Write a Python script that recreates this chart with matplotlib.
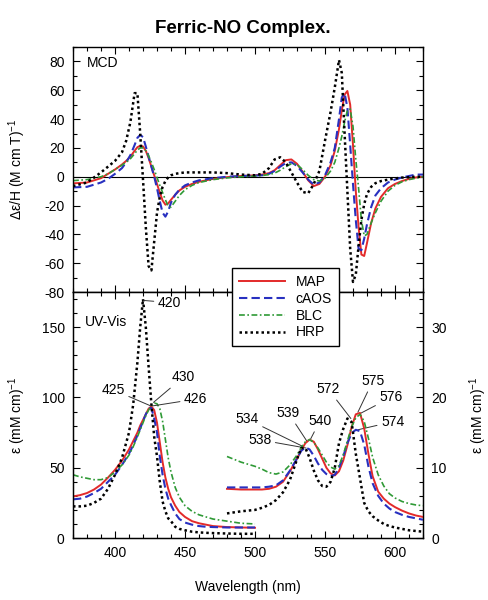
#!/usr/bin/env python3
"""
Ferric-NO complex: MCD and UV-Vis spectra (MAP, cAOS, BLC, HRP)
"""

import matplotlib
matplotlib.use('Agg')
import matplotlib.pyplot as plt
from matplotlib.ticker import MultipleLocator

plt.rcParams['font.family'] = ['Liberation Sans', 'DejaVu Sans']
plt.rcParams['axes.unicode_minus'] = False
plt.rcParams['mathtext.fontset'] = 'custom'
plt.rcParams['mathtext.rm'] = 'Liberation Sans'
plt.rcParams['mathtext.default'] = 'regular'

# ---- MCD (Δε/H, M cm T)^-1 ----
MCD_WL = [370, 380, 390, 395, 400, 405, 408, 411, 414, 416, 418, 420, 422, 424, 426, 428,
          430, 432, 434, 436, 438, 440, 443, 446, 450, 455, 460, 470, 480, 490, 500, 505,
          510, 514, 518, 522, 526, 530, 534, 538, 542, 546, 550, 554, 557, 560, 562, 564,
          566, 568, 570, 572, 574, 576, 578, 580, 583, 586, 590, 595, 600, 605, 610, 615, 620]
MCD_MAP = [-4.6, -4, -1, 2, 5, 8.5, 11, 14, 18, 20.5, 21.5, 21, 18, 13, 7, 1,
           -5, -11, -16.5, -19.4, -18.5, -16, -12.5, -9.5, -7, -5, -3.5, -1.5, -0.3, 0.5, 1, 1.5,
           2.5, 4.5, 8, 11.5, 12, 9, 3.5, -2.5, -6.5, -5, 0, 8, 18, 33, 46, 57,
           59.5, 50, 22, -10, -35, -54, -55, -46, -32, -22, -14, -8, -5, -3, -1.5, -0.5, 0]
MCD_CAOS = [-7.4, -7, -4, -1.5, 2, 6, 10, 15, 22, 27, 29, 27.5, 21, 14, 7, 0,
            -8, -17, -25, -27.7, -24, -18, -12.5, -9, -6, -4, -2.5, -1, 0, 0.5, 0.8, 1,
            2, 4, 7, 9.5, 10, 7.5, 3, -2, -5.5, -4, 1, 10, 20, 40, 55, 58,
            48, 22, -5, -30, -50, -51, -43, -33, -21, -13, -8, -4, -2, -0.5, 0.5, 1.5, 1.5]
MCD_BLC = [-2.7, -2, 0, 2, 5, 8, 10, 12.5, 16, 18.5, 20, 20, 18, 14.5, 10, 5,
           -0.5, -6, -11, -16, -20.5, -21, -17, -13, -9, -6, -4, -2, -0.8, 0, 0.5, 0.8,
           1.5, 2.5, 4.5, 7, 9, 8.5, 5, 1, -2, -3, -1, 4, 10, 20, 28, 38,
           46, 47, 35, 12, -8, -30, -41, -40, -32, -25, -17, -10, -6, -3.5, -2, -1, 0]
MCD_HRP = [-6.5, -4, 3, 7, 11, 17, 25, 38, 58, 58, 30, -2, -35, -62, -65, -45,
           -25, -14, -7, -3, -0.5, 1, 2, 2.5, 3, 3, 3, 3, 2.5, 1.5, 1, 2,
           6, 12, 13.5, 10, 3, -4, -10.5, -11.5, -5, 4, 25, 45, 62, 81, 72, 30,
           -10, -50, -73, -68, -48, -30, -19, -12, -7, -4.5, -3, -2, -1.2, -0.6, -0.3, 0, 0]

# ---- UV-Vis Soret region (left axis, mM cm)^-1 ----
SORET_WL = [370, 375, 380, 385, 390, 395, 400, 405, 410, 413, 416, 418, 420, 422, 424, 426,
            428, 430, 432, 434, 436, 438, 440, 443, 446, 450, 455, 460, 465, 470, 480, 490, 500]
SORET_MAP = [29.6, 30.5, 32, 34.5, 38, 43, 48.5, 55, 63, 69, 75, 80, 84, 88, 92, 93.6,
             91, 82, 68, 54, 43, 35, 29, 23, 18.5, 15, 12, 10.5, 9.5, 8.5, 7.8, 7.5, 7.3]
SORET_CAOS = [27.5, 28, 29.5, 32, 35, 40, 45, 52, 60, 66, 73, 78, 83, 88, 92, 92.5,
              85, 75, 58, 45, 35, 28, 23.5, 17.5, 13.5, 11, 9.5, 8.5, 8, 7.8, 7.5, 7.5, 7.5]
SORET_BLC = [45, 43.5, 42.5, 41.5, 41.5, 43, 47, 52, 59, 65, 72, 77, 82, 87, 91, 94,
             96, 95.5, 92, 83, 70, 57, 47, 36, 29, 23, 19, 16.5, 15, 13.5, 12, 10.5, 10]
SORET_HRP = [22.5, 22.5, 23, 25, 28, 35, 45, 57, 75, 95, 125, 150, 170, 150, 122, 95,
             72, 58, 40, 26, 19, 14, 12, 8, 6.5, 5.5, 4.5, 4, 3.7, 3.5, 3.2, 3, 3]

# ---- UV-Vis Q-band region (right axis, mM cm)^-1 ----
Q_WL = [480, 490, 500, 505, 510, 515, 520, 525, 530, 533, 536, 539, 542, 545, 548, 551, 554,
        557, 560, 563, 566, 569, 572, 575, 578, 581, 584, 588, 592, 596, 600, 605, 610, 615, 620]
Q_MAP = [7.0, 6.9, 6.9, 6.9, 7.0, 7.3, 8.0, 9.5, 11.3, 12.5, 13.5, 14.0, 13.7, 12.6, 11.3, 10.0, 9.2,
         8.9, 9.5, 11.0, 13.2, 15.8, 17.6, 17.8, 15.6, 12.0, 8.8, 6.6, 5.6, 4.9, 4.4, 3.9, 3.5, 3.2, 3.0]
Q_CAOS = [7.2, 7.2, 7.2, 7.2, 7.3, 7.5, 8.2, 9.6, 11.3, 12.4, 12.9, 12.6, 11.7, 10.6, 9.7, 9.1, 8.8,
          9.0, 10.0, 11.6, 13.5, 14.9, 15.4, 15.2, 13.3, 10.2, 7.8, 6.0, 4.9, 4.2, 3.7, 3.3, 3.0, 2.8, 2.6]
Q_BLC = [11.6, 10.8, 10.2, 9.8, 9.3, 9.1, 9.4, 10.4, 11.8, 12.9, 13.7, 14.0, 13.6, 12.8, 11.8, 10.8, 10.1,
         9.8, 10.3, 11.8, 13.8, 15.8, 17.1, 17.6, 16.6, 14.2, 11.5, 9.0, 7.4, 6.3, 5.7, 5.2, 4.9, 4.7, 4.6]
Q_HRP = [3.5, 3.8, 4.0, 4.3, 4.7, 5.4, 6.5, 8.3, 11.2, 12.8, 12.8, 11.4, 9.6, 8.2, 7.4, 7.3, 8.0,
         10.0, 13.5, 15.5, 17.0, 16.5, 12.0, 8.5, 5.0, 3.8, 3.1, 2.5, 2.0, 1.7, 1.5, 1.3, 1.1, 1.0, 0.9]

LABELS = ['MAP', 'cAOS', 'BLC', 'HRP']


def style_axis(ax, ymajor, yminor):
    ax.xaxis.set_major_locator(MultipleLocator(50))
    ax.xaxis.set_minor_locator(MultipleLocator(10))
    ax.yaxis.set_major_locator(MultipleLocator(ymajor))
    ax.yaxis.set_minor_locator(MultipleLocator(yminor))
    ax.tick_params(which='both', direction='in', top=True, labelsize=10, pad=6)
    ax.tick_params(which='major', length=5, width=0.8)
    ax.tick_params(which='minor', length=3, width=0.8)
    for sp in ax.spines.values():
        sp.set_linewidth(1.0)


def main():
    styles = [
        dict(color='#e32a2a', linestyle='-', lw=1.4),
        dict(color='#2830c0', linestyle=(0, (4, 2)), lw=1.5),
        dict(color='#2f9a36', linestyle=(0, (3.5, 1.5, 1, 1.5)), lw=1.2),
        dict(color='black', linestyle=(0, (1, 1.2)), lw=1.8),
    ]

    fig = plt.figure(figsize=(4.89, 6.0), dpi=100)
    ax1 = fig.add_axes([0.1493, 0.5133, 0.7157, 0.4083])
    ax2 = fig.add_axes([0.1493, 0.1033, 0.7157, 0.41])
    ax3 = ax2.twinx()

    fig.text(0.496, 0.953, 'Ferric-NO Complex.', ha='center', va='center',
             fontsize=13.5, fontweight='bold')

    # MCD panel
    ax1.axhline(0, color='black', lw=0.8)
    handles = []
    for ys, lab, st in zip([MCD_MAP, MCD_CAOS, MCD_BLC, MCD_HRP], LABELS, styles):
        h, = ax1.plot(MCD_WL, ys, label=lab, **st)
        handles.append(h)
    ax1.set_xlim(370, 620)
    ax1.set_ylim(-80, 90)
    style_axis(ax1, 20, 10)
    ax1.tick_params(which='both', right=True, labelbottom=False)
    ax1.set_ylabel('Δε/H (M cm T)$^{-1}$', fontsize=10)
    ax1.yaxis.set_label_coords(-0.13, 0.5)
    ax1.text(0.04, 0.935, 'MCD', transform=ax1.transAxes, va='center', fontsize=10)

    # UV-Vis panel
    for ys, st in zip([SORET_MAP, SORET_CAOS, SORET_BLC, SORET_HRP], styles):
        ax2.plot(SORET_WL, ys, **st)
    for ys, st in zip([Q_MAP, Q_CAOS, Q_BLC, Q_HRP], styles):
        ax3.plot(Q_WL, ys, **st)
    ax2.set_xlim(370, 620)
    ax2.set_ylim(0, 175)
    ax3.set_ylim(0, 35)
    style_axis(ax2, 50, 10)
    ax2.tick_params(which='both', right=False)
    ax3.yaxis.set_major_locator(MultipleLocator(10))
    ax3.yaxis.set_minor_locator(MultipleLocator(2))
    ax3.tick_params(which='both', direction='in', labelsize=10, pad=6)
    ax3.tick_params(which='major', length=5, width=0.8)
    ax3.tick_params(which='minor', length=3, width=0.8)
    ax2.set_xlabel('Wavelength (nm)', fontsize=10)
    ax2.xaxis.set_label_coords(0.5, -0.17)
    ax2.set_ylabel('ε (mM cm)$^{-1}$', fontsize=10)
    ax2.yaxis.set_label_coords(-0.13, 0.5)
    ax3.set_ylabel('ε (mM cm)$^{-1}$', fontsize=10, rotation=90)
    ax3.yaxis.set_label_coords(1.128, 0.5)
    ax2.text(0.035, 0.88, 'UV-Vis', transform=ax2.transAxes, va='center', fontsize=10)

    # peak labels (left-axis units)
    peaks = [
        ('420', (420.5, 169), (439, 167.5)),
        ('425', (425.5, 94), (398.6, 105.5)),
        ('430', (427.5, 96.5), (448.5, 114.2)),
        ('426', (427, 94), (457.7, 98.8)),
        ('534', (534.5, 65), (494.3, 84.6)),
        ('539', (537, 69), (523.9, 88.9)),
        ('540', (539.5, 70), (546.4, 83.4)),
        ('538', (536.5, 64), (503.3, 69.9)),
        ('572', (568.5, 85), (552.3, 105.9)),
        ('575', (573.5, 89.5), (584.2, 111.8)),
        ('576', (575, 88.5), (597.2, 100)),
        ('574', (573.5, 77), (598.4, 82.7)),
    ]
    for txt, xy, xytext in peaks:
        ax2.annotate(txt, xy=xy, xytext=xytext, ha='center', va='center', fontsize=10,
                     zorder=6, arrowprops=dict(arrowstyle='-', lw=0.7, color='#333333',
                                               shrinkA=1, shrinkB=0))

    leg = fig.legend(handles, LABELS, loc='upper left', bbox_to_anchor=(0.474, 0.553),
                     borderaxespad=0, fontsize=10, handlelength=3.3, labelspacing=0.2,
                     borderpad=0.5, handletextpad=0.8, fancybox=False, framealpha=1,
                     edgecolor='black')
    leg.get_frame().set_linewidth(1.0)

    fig.savefig('out.png', dpi=100)
    plt.close(fig)


if __name__ == "__main__":
    main()
